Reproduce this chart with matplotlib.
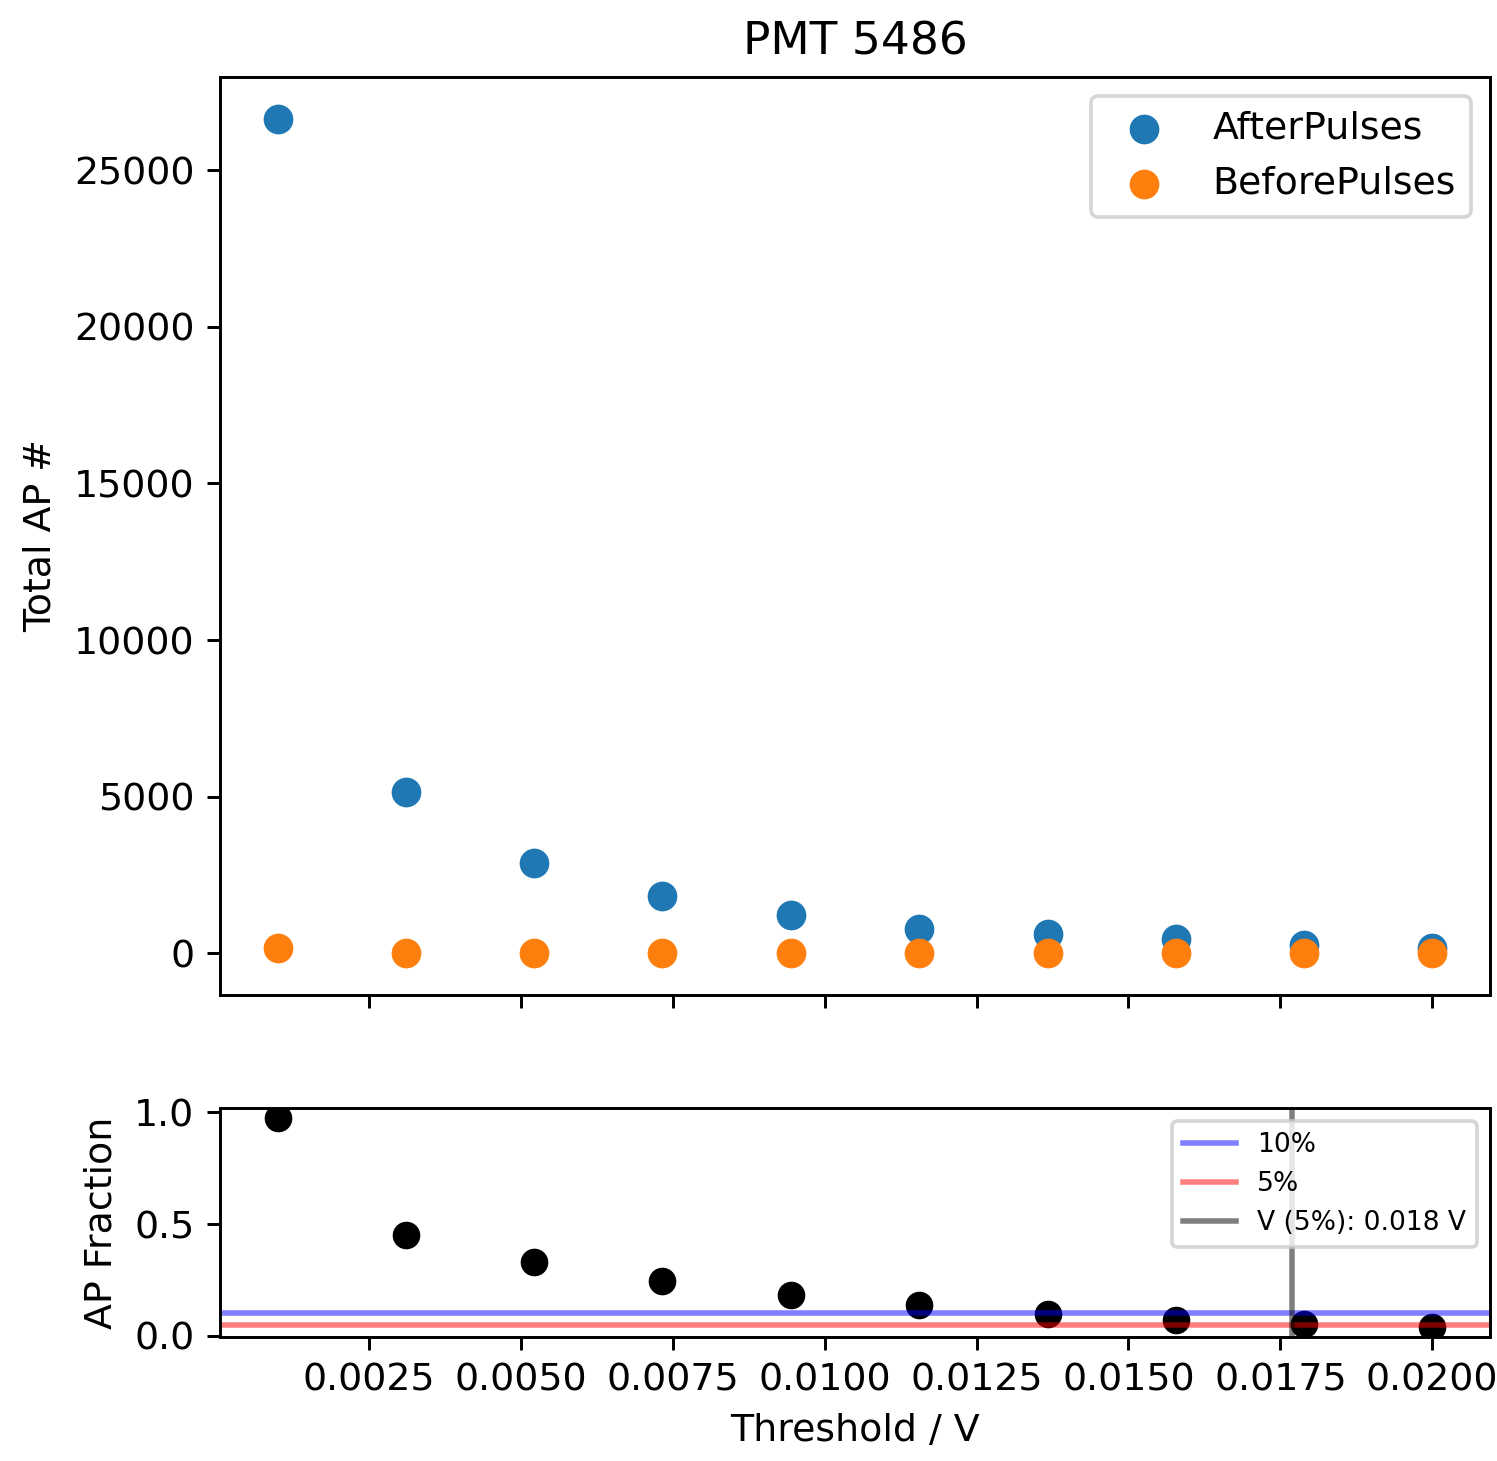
import matplotlib
matplotlib.use("Agg")
import matplotlib.pyplot as plt

# Threshold scan values
threshold = [0.00100, 0.00311, 0.00522, 0.00733, 0.00944,
             0.01156, 0.01367, 0.01578, 0.01789, 0.02000]
after_pulses = [26650, 5140, 2890, 1830, 1220, 770, 610, 450, 265, 160]
before_pulses = [160, 0, 0, 0, 0, 0, 0, 0, 0, 0]
ap_fraction = [0.973, 0.452, 0.332, 0.244, 0.184, 0.136, 0.098, 0.072, 0.053, 0.041]

V_5PCT = 0.01769

plt.rcParams["font.size"] = 10.3

fig = plt.figure(figsize=(1497 / 265, 1461 / 265), dpi=265)
ax1 = fig.add_axes([0.147, 0.319, 0.8483, 0.6284])
ax2 = fig.add_axes([0.147, 0.0849, 0.8483, 0.1567], sharex=ax1)

ax1.scatter(threshold, after_pulses, s=50, label="AfterPulses")
ax1.scatter(threshold, before_pulses, s=50, label="BeforePulses")
ax1.set_ylabel("Total AP #")
ax1.set_title("PMT 5486")
ax1.legend(loc="upper right")
ax1.tick_params(labelbottom=False)

ax2.plot(threshold, ap_fraction, "ko", markersize=6.5)
ax2.axhline(0.10, color="b", alpha=0.5, label="10%")
ax2.axhline(0.05, color="r", alpha=0.5, label="5%")
ax2.axvline(V_5PCT, color="k", alpha=0.5, label="V (5%%): %.3f V" % V_5PCT)
ax2.set_ylabel("AP Fraction")
ax2.set_xlabel("Threshold / V")
ax2.legend(loc="upper right", fontsize=7.2)

fig.savefig("out.png", dpi=265)
